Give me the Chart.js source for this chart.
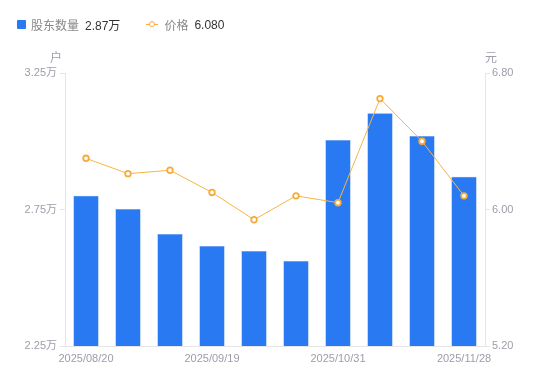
<!DOCTYPE html>
<html>
<head>
<meta charset="utf-8">
<script src="https://cdn.jsdelivr.net/npm/chart.js@4.4.1/dist/chart.umd.min.js"></script>
<style>
    body { margin: 0; background: #fff; font-family: "Liberation Sans", "Noto Sans CJK SC", sans-serif; }
    #wrap { position: relative; width: 550px; height: 381px; }
    #legend { position: absolute; left: 17px; top: 16px; font-size: 12px; color: #888; display: flex; align-items: center; }
    #legend .val { color: #333; margin-left: 6px; }
    #legend .sq { width: 9px; height: 9px; background: #2979f2; border-radius: 1px; margin-right: 5px; }
    #legend .ln { position: relative; width: 12px; height: 9px; margin-right: 6px; }
    #legend .ln:before { content: ''; position: absolute; left: 0; right: 0; top: 4px; height: 1px; background: #f7ac3a; }
    #legend .ln:after { content: ''; position: absolute; left: 3px; top: 1px; width: 4px; height: 4px; border: 1.5px solid #f7ac3a; border-radius: 50%; background: #fff; }
</style>
</head>
<body>
<div id="wrap">
    <div id="legend">
        <span class="sq"></span><span>股东数量</span><span class="val">2.87万</span>
        <span style="width:26px"></span>
        <span class="ln"></span><span>价格</span><span class="val">6.080</span>
    </div>
    <canvas id="chart" width="550" height="381"></canvas>
</div>
<script>
const dates = ['2025/08/20', '2025/08/29', '2025/09/10', '2025/09/19', '2025/09/30', '2025/10/20', '2025/10/31', '2025/11/10', '2025/11/20', '2025/11/28'];
const holders = [2.80, 2.752, 2.66, 2.616, 2.598, 2.561, 3.005, 3.103, 3.019, 2.87]; // 万户
const prices = [6.30, 6.21, 6.23, 6.10, 5.94, 6.08, 6.04, 6.65, 6.40, 6.08];
const leftTicks = [2.25, 2.75, 3.25];
const rightTicks = [5.20, 6.00, 6.80];

const tickColor = '#9d9dab';
const lineColor = '#e6e6e6';

// axis unit titles (户 / 元) above the axes
const unitTitles = {
    id: 'unitTitles',
    afterDraw(chart) {
        const c = chart.ctx;
        const a = chart.chartArea;
        c.save();
        c.fillStyle = tickColor;
        c.font = '12px "Noto Sans CJK SC"';
        c.textBaseline = 'middle';
        c.textAlign = 'right';
        c.fillText('户', a.left - 3, 57);
        c.textAlign = 'left';
        c.fillText('元', a.right + 0, 57);
        c.restore();
    }
};

new Chart(document.getElementById('chart'), {
    type: 'bar',
    data: {
        labels: dates,
        datasets: [{
            type: 'line',
            label: '价格',
            data: prices,
            yAxisID: 'y1',
            borderColor: '#f9b444',
            borderWidth: 1,
            pointRadius: 2.8,
            pointBorderWidth: 1.8,
            pointBackgroundColor: '#fff',
            pointBorderColor: '#f7ac3a',
            tension: 0,
            order: 0
        }, {
            label: '股东数量',
            data: holders,
            yAxisID: 'y',
            backgroundColor: '#2979f2',
            borderColor: '#5c97f4',
            borderWidth: 0.5,
            categoryPercentage: 0.6,
            barPercentage: 1,
            order: 1
        }]
    },
    options: {
        responsive: false,
        animation: false,
        layout: { padding: { top: 73, left: 0, right: 0, bottom: 0 } },
        plugins: { legend: { display: false }, tooltip: { enabled: false } },
        scales: {
            x: {
                grid: { drawOnChartArea: false, drawTicks: false },
                border: { color: lineColor },
                ticks: {
                    autoSkip: false,
                    maxRotation: 0,
                    color: tickColor,
                    font: { size: 11, family: '"Liberation Sans"' },
                    padding: 6,
                    callback: function (v, i) { return i % 3 === 0 ? dates[i] : ''; }
                },
                afterFit(scale) { scale.height = 35; }
            },
            y: {
                position: 'left',
                min: 2.25,
                max: 3.25,
                afterBuildTicks(scale) { scale.ticks = leftTicks.map(v => ({ value: v })); },
                grid: { drawOnChartArea: false, tickLength: 5, color: lineColor },
                border: { color: lineColor },
                ticks: {
                    color: tickColor,
                    padding: 3,
                    font: { size: 11, family: '"Liberation Sans", "Noto Sans CJK SC"' },
                    callback: v => v.toFixed(2) + '万'
                },
                afterFit(scale) { scale.width = 65; }
            },
            y1: {
                position: 'right',
                min: 5.2,
                max: 6.8,
                afterBuildTicks(scale) { scale.ticks = rightTicks.map(v => ({ value: v })); },
                grid: { drawOnChartArea: false, tickLength: 5, color: lineColor },
                border: { color: lineColor },
                ticks: {
                    color: tickColor,
                    padding: 2,
                    font: { size: 11, family: '"Liberation Sans"' },
                    callback: v => v.toFixed(2)
                },
                afterFit(scale) { scale.width = 65; }
            }
        }
    },
    plugins: [unitTitles]
});
</script>
</body>
</html>
